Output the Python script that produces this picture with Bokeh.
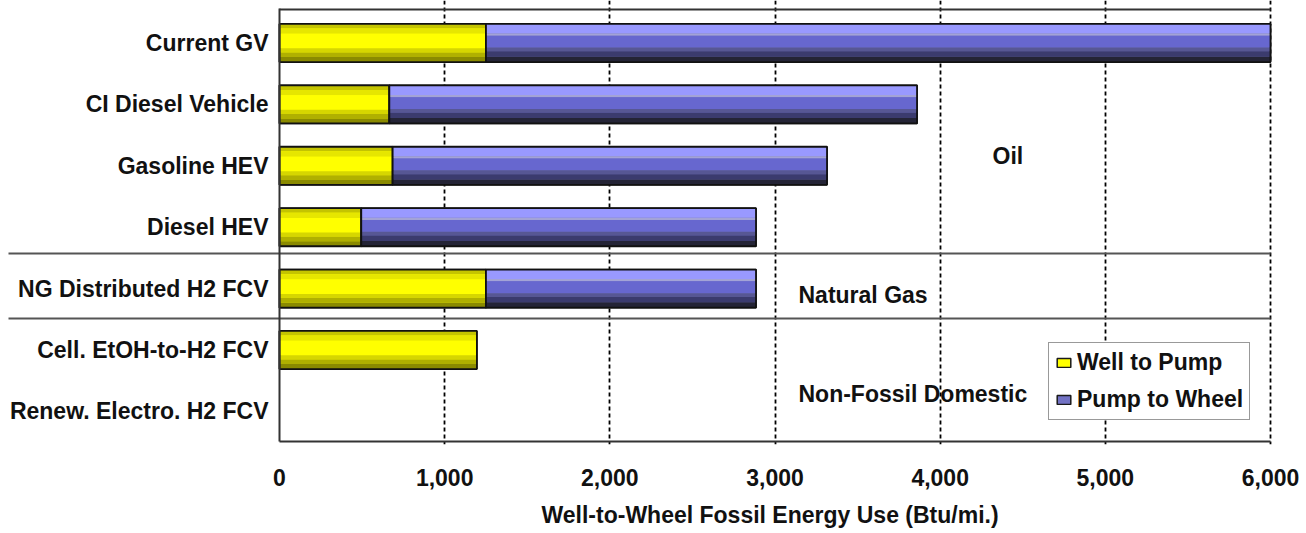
import numpy as np
from bokeh.plotting import figure
from bokeh.models import Range1d, FixedTicker, Legend, LegendItem, Label, Title
from bokeh.embed import file_html
from bokeh.resources import INLINE
from bokeh.core.properties import value

# ---------------- data ----------------
categories = ["Current GV", "CI Diesel Vehicle", "Gasoline HEV", "Diesel HEV",
              "NG Distributed H2 FCV", "Cell. EtOH-to-H2 FCV", "Renew. Electro. H2 FCV"]
well_to_pump = [1250, 665, 685, 495, 1250, 1195, 0]
pump_to_wheel = [4750, 3195, 2630, 2390, 1635, 0, 0]
series_names = ["Well to Pump", "Pump to Wheel"]
x_ticks = [0, 1000, 2000, 3000, 4000, 5000, 6000]
x_tick_labels = ["0", "1,000", "2,000", "3,000", "4,000", "5,000", "6,000"]
group_names = ["Oil", "Natural Gas", "Non-Fossil Domestic"]
x_title = "Well-to-Wheel Fossil Energy Use (Btu/mi.)"

# ---------------- layout ----------------
FONT = "Liberation Sans"
FS = "23px"
FW, FH = 1273, 444
PXU = 991 / 6000.0          # pixels per data unit (x)
ROW = 61.4                  # pixels per row (y)
X0PX = 279                  # pixel of x = 0
x_start = -X0PX / PXU
x_end = x_start + FW / PXU
y_top = -42.5 / ROW
y_bot = y_top + FH / ROW


def ypix(py):
    """pixel y to data y"""
    return (py - 42.5) / ROW


def xpix(px):
    return (px - X0PX) / PXU


p = figure(frame_width=FW, frame_height=FH,
           x_range=Range1d(x_start, x_end), y_range=Range1d(y_bot, y_top),
           output_backend="svg", toolbar_location=None,
           min_border_left=0, min_border_top=0, min_border_right=28, min_border_bottom=89,
           y_axis_location=None, outline_line_color=None)
p.background_fill_color = "white"
p.border_fill_color = "white"

# grid
p.ygrid.visible = False
p.xgrid.ticker = FixedTicker(ticks=x_ticks[1:])
p.xgrid.grid_line_color = "#000000"
p.xgrid.grid_line_dash = "4 3"
p.xgrid.grid_line_width = 1.8

# x axis (labels only)
ax = p.xaxis[0]
ax.ticker = FixedTicker(ticks=x_ticks)
ax.major_label_overrides = {t: s for t, s in zip(x_ticks, x_tick_labels)}
ax.axis_line_color = None
ax.major_tick_line_color = None
ax.minor_tick_line_color = None
ax.major_label_text_font = FONT
ax.major_label_text_font_size = FS
ax.major_label_text_font_style = "bold"
ax.major_label_text_color = "#111111"
ax.major_label_standoff = 18

# axis title
p.add_layout(Title(text=x_title, align="left", offset=541, standoff=23,
                   text_font=FONT, text_font_style="bold", text_font_size=FS,
                   text_color="#111111"), "below")

# separators
for py in (253, 318):
    p.segment(x0=[xpix(8)], x1=[6000], y0=[ypix(py)], y1=[ypix(py)],
              line_color="#555555", line_width=2)

# bars
rows = np.arange(len(categories), dtype=float)
wtp = np.array(well_to_pump, dtype=float)
ptw = np.array(pump_to_wheel, dtype=float)
BAR_H = 0.62

yellow_stripes = [(0.00, 0.12, "#c4c400"), (0.12, 0.26, "#e6e600"), (0.26, 0.64, "#ffff00"),
                  (0.64, 0.75, "#d6d600"), (0.75, 0.87, "#b0b000"), (0.87, 1.00, "#8a8a00")]
blue_stripes = [(0.00, 0.25, "#9999ff"), (0.25, 0.31, "#a3a3d6"), (0.31, 0.62, "#6767cf"),
                (0.62, 0.72, "#575794"), (0.72, 0.86, "#3b3b6e"), (0.86, 1.00, "#242436")]


def draw(left, right, stripes, base_color):
    m = right > left
    ys, l, r = rows[m], left[m], right[m]
    base = p.hbar(y=ys, left=l, right=r, height=BAR_H, fill_color=base_color,
                  line_color="#1a1a1a", line_width=1.5)
    for ft, fb, c in stripes:
        p.hbar(y=ys + (ft + fb) / 2 * BAR_H - BAR_H / 2, left=l, right=r,
               height=(fb - ft) * BAR_H, fill_color=c, line_color=None)
    p.hbar(y=ys, left=l, right=r, height=BAR_H, fill_color=None,
           line_color="#111111", line_width=1.8)
    return base


r_wtp = draw(np.zeros_like(wtp), wtp, yellow_stripes, "#ffff00")
r_ptw = draw(wtp, wtp + ptw, blue_stripes, "#7272c4")

# plot frame (top, left, bottom)
p.segment(x0=[0, 0, 0], x1=[6000, 6000, 0],
          y0=[ypix(9), ypix(441), ypix(8)], y1=[ypix(9), ypix(441), ypix(441)],
          line_color="#333333", line_width=2)

# category labels
p.text(x=np.zeros(len(categories)), y=rows, text=categories, x_offset=-11,
       text_align="right", text_baseline="middle", text_font=value(FONT),
       text_font_style="bold", text_font_size=FS, text_color="#111111")

# group labels
for name, gx, gy in zip(group_names, (xpix(992), xpix(798), xpix(798)), (155, 294, 393)):
    p.add_layout(Label(x=gx, y=ypix(gy), text=name, text_align="left",
                       text_baseline="middle", text_font=FONT, text_font_style="bold",
                       text_font_size=FS, text_color="#111111"))

# legend
legend = Legend(items=[LegendItem(label=series_names[0], renderers=[r_wtp]),
                       LegendItem(label=series_names[1], renderers=[r_ptw])],
                location=(1048, 24), glyph_width=17, glyph_height=11,
                label_height=26, spacing=10, padding=6, margin=0, label_standoff=5,
                label_text_font=FONT, label_text_font_size=FS,
                label_text_font_style="bold", label_text_color="#111111",
                border_line_color="#333333", border_line_width=1.5,
                background_fill_color="white", background_fill_alpha=1.0)
p.add_layout(legend)

open("out.html", "w").write(file_html(p, INLINE))
